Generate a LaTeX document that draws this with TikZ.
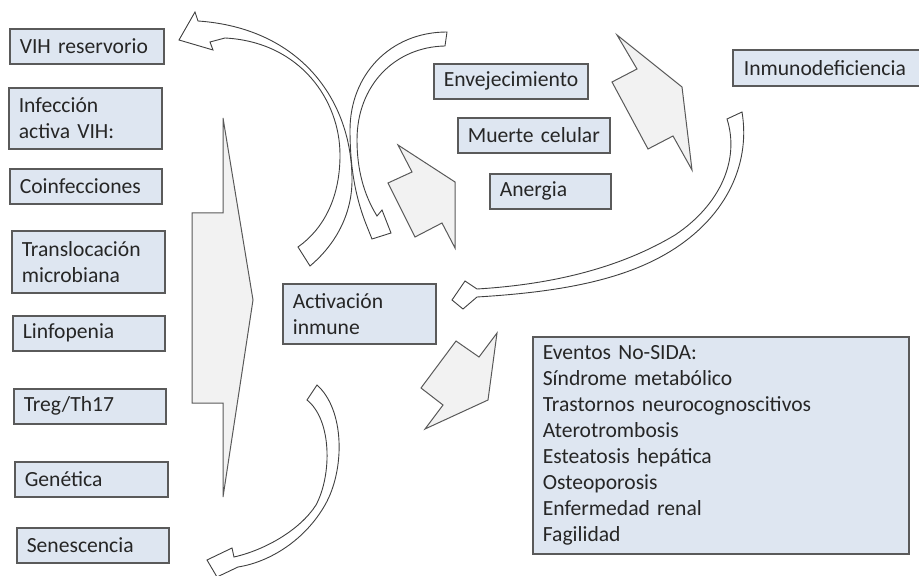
\documentclass[tikz,border=0pt]{standalone}
\usepackage{fontspec}
\setmainfont{Carlito}
\usetikzlibrary{positioning}
\definecolor{boxfill}{HTML}{DEE6F1}
\definecolor{boxline}{HTML}{5A5A5A}
\definecolor{arrowfill}{HTML}{F2F2F2}
\definecolor{arrowline}{HTML}{595959}
\definecolor{textgray}{HTML}{262626}

\begin{document}
\begin{tikzpicture}[
  x=0.5pt,
  y=-0.5pt,
  every node/.style={font=\fontsize{10.8}{13}\selectfont, text=textgray, inner sep=0pt},
  box/.style={draw=boxline, fill=boxfill, line width=0.8pt, anchor=north west, align=left, inner xsep=5pt, inner ysep=2pt, minimum height=17.5pt},
  blockarrow/.style={draw=arrowline, fill=arrowfill, line width=0.5pt, line join=miter},
  curvedarrow/.style={draw=black!75, fill=white, line width=0.45pt, line join=miter}
]
  \useasboundingbox (0,0) rectangle (919,576);

  % Factors on the left.
  \node[box, text width=67pt] (reservorio) at (9,28) {VIH reservorio};
  \node[box, text width=66.5pt, minimum height=30.5pt] (infeccion) at (8,87) {Infección\\activa VIH:};
  \node[box, text width=66pt] (coinf) at (9,168) {Coinfecciones};
  \node[box, text width=66.5pt, minimum height=31pt] (transloc) at (11,230) {Translocación\\microbiana};
  \node[box, text width=66pt] (linfo) at (12,315) {Linfopenia};
  \node[box, text width=66pt] (treg) at (13,388) {Treg/Th17};
  \node[box, text width=66.5pt] (genetica) at (14,461) {Genética};
  \node[box, text width=66pt] (senesc) at (16,527) {Senescencia};

  % Centre and consequences.
  \node[box, text width=66.5pt, minimum height=30pt] (activacion) at (282,283) {Activación\\inmune};
  \node[box, text width=67pt] (envejec) at (433,63) {Envejecimiento};
  \node[box, text width=66pt] (muerte) at (457,117) {\mbox{Muerte celular}};
  \node[box, text width=50.5pt] (anergia) at (489,173) {Anergia};
  \node[box, text width=95pt, inner xsep=5.5pt, minimum height=18pt] (inmuno) at (732,49) {Inmunodeficiencia};
  \node[box, text width=178pt, minimum height=108.5pt] (eventos) at (532,336) {Eventos No-SIDA:\\Síndrome metabólico\\Trastornos neurocognoscitivos\\Aterotrombosis\\Esteatosis hepática\\Osteoporosis\\Enfermedad renal\\Fagilidad};

  % Block arrows.
  \draw[blockarrow] (192,213) -- (223,213) -- (223,118) -- (253,300) -- (223,497) -- (223,403) -- (192,403) -- cycle;
  \draw[blockarrow] (398,145) -- (455,182) -- (455,248) -- (442,223) -- (415,237) -- (388,183) -- (412,172) -- cycle;
  \draw[blockarrow] (617,35) -- (682,87) -- (692,170) -- (673,136) -- (648,149) -- (612,82) -- (637,69) -- cycle;
  \draw[blockarrow] (497,333) -- (488,400) -- (425,429) -- (443,405) -- (421,388) -- (456,341) -- (479,357) -- cycle;

  % Curved arrows.
  \draw[curvedarrow] (310,266) .. controls (335,245) and (352,215) .. (352,180)
    .. controls (352,100) and (300,28) .. (198,21) -- (195,12) -- (179,40) -- (213,50) -- (210,42) -- (225,38)
    .. controls (300,42) and (340,100) .. (340,155) .. controls (340,200) and (322,230) .. (298,247) -- cycle;
  \draw[curvedarrow] (447,32) .. controls (390,32) and (350,75) .. (350,130)
    .. controls (350,175) and (358,205) .. (368,229) -- (372,239) -- (391,233) -- (382,210) -- (377,216)
    .. controls (364,195) and (357,170) .. (357,140) .. controls (357,85) and (395,47) .. (445,46) -- cycle;
  \draw[curvedarrow] (742,112) .. controls (750,160) and (730,210) .. (680,245)
    .. controls (630,280) and (560,292) .. (477,297) -- (463,309) -- (452,300) -- (465,281) -- (477,289)
    .. controls (560,284) and (625,265) .. (675,235) .. controls (720,205) and (740,160) .. (727,119) -- cycle;
  \draw[curvedarrow] (317,385) .. controls (345,410) and (345,470) .. (325,505)
    .. controls (305,540) and (270,562) .. (238,567) -- (217,577) -- (207,560) -- (232,548) -- (234,557)
    .. controls (265,550) and (300,530) .. (316,505) .. controls (332,475) and (332,420) .. (307,400) -- cycle;
\end{tikzpicture}
\end{document}
